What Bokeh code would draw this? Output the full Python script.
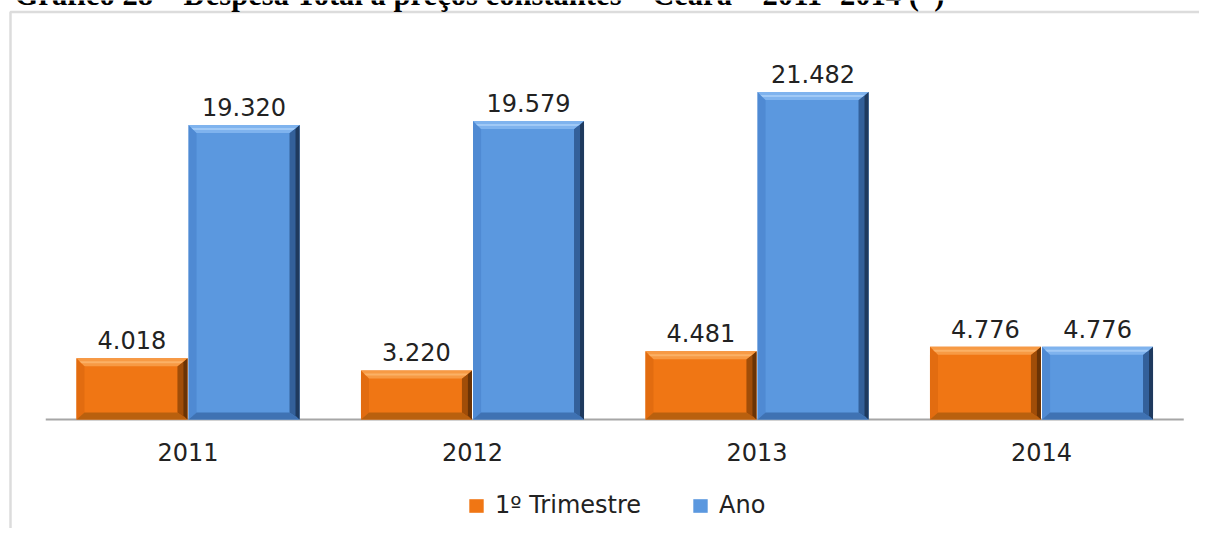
import numpy as np
from bokeh.plotting import figure
from bokeh.models import (Range1d, FixedTicker, Label, BoxAnnotation, Legend,
                          LegendItem, ColumnDataSource)
from bokeh.core.properties import value
from bokeh.embed import file_html
from bokeh.resources import INLINE

# ---------------- data ----------------
years = ["2011", "2012", "2013", "2014"]
trimestre = [4018, 3220, 4481, 4776]
ano = [19320, 19579, 21482, 4776]
series_names = ["1º Trimestre", "Ano"]
title_text = "Gráfico 28 – Despesa Total a preços constantes – Ceará – 2011- 2014 (*)"

# ---------------- layout constants ----------------
W, H = 1199, 528
PX_PER_CAT = 284.5          # pixels per category on x
UNITS_PER_PX = 65.6         # data units per pixel on y
FIRST_CENTER_PX = 187.5     # canvas column of first category centre
BASE_PX = 419               # canvas row of the baseline
X0 = -FIRST_CENTER_PX / PX_PER_CAT
X1 = X0 + W / PX_PER_CAT
Y_END = BASE_PX * UNITS_PER_PX
Y_START = -(H - BASE_PX) * UNITS_PER_PX

FONT = "DejaVu Sans"
TXT = "#222222"

p = figure(width=W, height=H, x_range=Range1d(X0, X1), y_range=Range1d(Y_START, Y_END),
           output_backend="svg", toolbar_location=None, min_border=0,
           y_axis_location=None, x_axis_location="below")
p.xgrid.visible = False
p.ygrid.visible = False
p.outline_line_color = None
p.background_fill_color = "white"
p.border_fill_color = "white"

xax = p.xaxis[0]
xax.ticker = FixedTicker(ticks=list(range(len(years))))
xax.major_label_overrides = {i: y for i, y in enumerate(years)}
xax.fixed_location = 0
xax.axis_line_color = None
xax.major_tick_line_color = None
xax.minor_tick_line_color = None
xax.major_label_standoff = 17
xax.major_label_text_font = FONT
xax.major_label_text_font_size = "24px"
xax.major_label_text_color = TXT

# baseline
p.segment(x0=[-0.5], y0=[0], x1=[len(years) - 0.5], y1=[0], line_color="#a6a6a6", line_width=2)

offsets = [-0.197, 0.197]
bar_w = 0.39
styles = [
    dict(main="#f07614", top="#f79a44", topline="#fbb166", left="#e26c10", right="#a04d08",
         rightedge="#6a3305", bottom="#b9600e"),
    dict(main="#5b98df", top="#7fb3ee", topline="#a0c9f6", left="#4f8ad3", right="#33609a",
         rightedge="#1f3a5e", bottom="#3f72b3"),
]

bx = 8 / PX_PER_CAT
brx = 10 / PX_PER_CAT
by = 8 * UNITS_PER_PX
bby = 7 * UNITS_PER_PX

xs = np.arange(len(years), dtype=float)
legend_items = []
for name, vals, off, st in zip(series_names, [trimestre, ano], offsets, styles):
    vals = np.array(vals, dtype=float)
    xc = xs + off
    r = p.vbar(x=xc, top=vals, bottom=0, width=bar_w, fill_color=st["main"], line_color=None)
    legend_items.append(LegendItem(label=name, renderers=[r]))
    xl = xc - bar_w / 2
    xr = xc + bar_w / 2
    # bevel bands
    top_x = [[a, b, b - brx, a + bx] for a, b in zip(xl, xr)]
    top_y = [[v, v, v - by, v - by] for v in vals]
    bot_x = [[a, b, b - brx, a + bx] for a, b in zip(xl, xr)]
    bot_y = [[0, 0, bby, bby] for v in vals]
    left_x = [[a, a, a + bx, a + bx] for a in xl]
    left_y = [[0, v, v - by, bby] for v in vals]
    right_x = [[b, b, b - brx, b - brx] for b in xr]
    right_y = [[0, v, v - by, bby] for v in vals]
    redge_x = [[b, b, b - 4 / PX_PER_CAT, b - 4 / PX_PER_CAT] for b in xr]
    redge_y = [[0, v, v - 4 * UNITS_PER_PX, 4 * UNITS_PER_PX] for v in vals]
    tline_x = [[a + 3 * bx / 8, b - 3 * brx / 8, b - 5 * brx / 8, a + 5 * bx / 8] for a, b in zip(xl, xr)]
    tline_y = [[v - 3 * UNITS_PER_PX, v - 3 * UNITS_PER_PX, v - 5 * UNITS_PER_PX, v - 5 * UNITS_PER_PX] for v in vals]
    p.patches(xs=left_x, ys=left_y, fill_color=st["left"], line_color=None)
    p.patches(xs=bot_x, ys=bot_y, fill_color=st["bottom"], line_color=None)
    p.patches(xs=right_x, ys=right_y, fill_color=st["right"], line_color=None)
    p.patches(xs=redge_x, ys=redge_y, fill_color=st["rightedge"], line_color=None)
    p.patches(xs=top_x, ys=top_y, fill_color=st["top"], line_color=None)
    p.patches(xs=tline_x, ys=tline_y, fill_color=st["topline"], line_color=None)
    labels = [f"{int(v):,}".replace(",", ".") for v in vals]
    src = ColumnDataSource(dict(x=xc, y=vals, t=labels))
    p.text(x="x", y="y", text="t", source=src, text_align="center", text_baseline="alphabetic",
           y_offset=-18, text_font=value(FONT), text_font_size="24px", text_color=TXT)

legend = Legend(items=legend_items, location=(467, 9), orientation="horizontal",
                margin=0, padding=0, spacing=50, label_standoff=10,
                glyph_width=18, glyph_height=17, border_line_color=None,
                background_fill_alpha=0, label_text_font=FONT, label_text_font_size="24px",
                label_text_color=TXT)
p.add_layout(legend)

# chart border (frame of the original picture)
p.add_layout(BoxAnnotation(left=X0 + 10 / PX_PER_CAT, right=X1 + 1,
                           top=Y_END - 11.5 * UNITS_PER_PX, bottom=Y_START - 10000,
                           fill_alpha=0, line_color="#8c8c8c", line_width=2.5))

# partially visible title above the frame
p.add_layout(Label(x=14, y=H + 6, x_units="screen", y_units="screen", text=title_text,
                   text_font="Liberation Serif", text_font_style="bold", text_font_size="30.6px",
                   text_baseline="alphabetic", text_color="black"))

open("out.html", "w").write(file_html(p, INLINE))
